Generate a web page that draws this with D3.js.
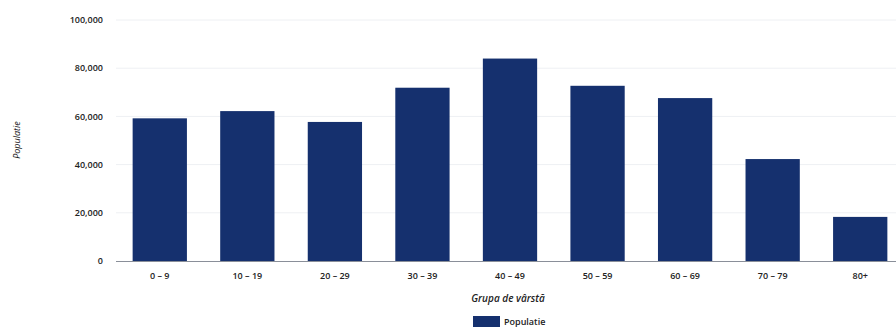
<!DOCTYPE html>
<html>
<head>
<meta charset="utf-8">
<script src="https://cdn.jsdelivr.net/npm/d3@7"></script>
<style>
    body { margin: 0; background: #fff; }
    svg text { font-family: "Open Sans", sans-serif; fill: #222; }
</style>
</head>
<body>
<svg id="chart" width="896" height="327"></svg>
<script>
// Age groups and population counts
var groups = ['0 – 9', '10 – 19', '20 – 29', '30 – 39', '40 – 49', '50 – 59', '60 – 69', '70 – 79', '80+'];
var populatie = [59200, 62200, 57700, 71900, 84000, 72700, 67600, 42300, 18300];
var yTicks = [0, 20000, 40000, 60000, 80000, 100000];

var svg = d3.select('svg#chart');

var x = d3.scaleBand()
    .domain(groups)
    .range([116, 904])
    .paddingInner(0.38)
    .paddingOuter(0.19);

var y = d3.scaleLinear()
    .domain([0, 100000])
    .range([261, 20]);

var fmt = d3.format(',');

// faint grid lines
svg.append('g')
    .selectAll('line')
    .data(yTicks.slice(1))
    .enter().append('line')
        .attr('x1', 116)
        .attr('x2', 896)
        .attr('y1', function(d) { return y(d); })
        .attr('y2', function(d) { return y(d); })
        .attr('stroke', '#eef0f3')
        .attr('stroke-width', 1);

// y tick labels
svg.append('g')
    .selectAll('text')
    .data(yTicks)
    .enter().append('text')
        .attr('x', 103)
        .attr('y', function(d) { return y(d); })
        .attr('dy', '0.35em')
        .attr('text-anchor', 'end')
        .style('font-size', '9px')
        .style('font-weight', 600)
        .text(function(d) { return fmt(d); });

// bars
svg.append('g')
    .selectAll('rect')
    .data(populatie)
    .enter().append('rect')
        .attr('x', function(d, i) { return x(groups[i]); })
        .attr('y', function(d) { return y(d); })
        .attr('width', x.bandwidth())
        .attr('height', function(d) { return y(0) - y(d); })
        .attr('fill', '#15306e');

// baseline
svg.append('line')
    .attr('x1', 116)
    .attr('x2', 896)
    .attr('y1', y(0) + 0.5)
    .attr('y2', y(0) + 0.5)
    .attr('stroke', '#8a8f99')
    .attr('stroke-width', 1);

// x tick labels
svg.append('g')
    .selectAll('text')
    .data(groups)
    .enter().append('text')
        .attr('x', function(d) { return x(d) + x.bandwidth() / 2; })
        .attr('y', 279)
        .attr('text-anchor', 'middle')
        .style('font-size', '9px')
        .style('font-weight', 600)
        .text(function(d) { return d; });

// axis titles
svg.append('text')
    .attr('transform', 'translate(20,140) rotate(-90)')
    .attr('text-anchor', 'middle')
    .style('font-size', '9px')
    .style('font-style', 'italic')
    .text('Populatie');

svg.append('text')
    .attr('x', 508)
    .attr('y', 302)
    .attr('text-anchor', 'middle')
    .style('font-size', '10px')
    .style('font-style', 'italic')
    .style('font-weight', 600)
    .text('Grupa de vârstă');

// legend
svg.append('rect')
    .attr('x', 473)
    .attr('y', 316)
    .attr('width', 27)
    .attr('height', 12)
    .attr('fill', '#15306e');

svg.append('text')
    .attr('x', 504)
    .attr('y', 325)
    .style('font-size', '9px')
    .style('font-weight', 600)
    .text('Populatie');
</script>
</body>
</html>
